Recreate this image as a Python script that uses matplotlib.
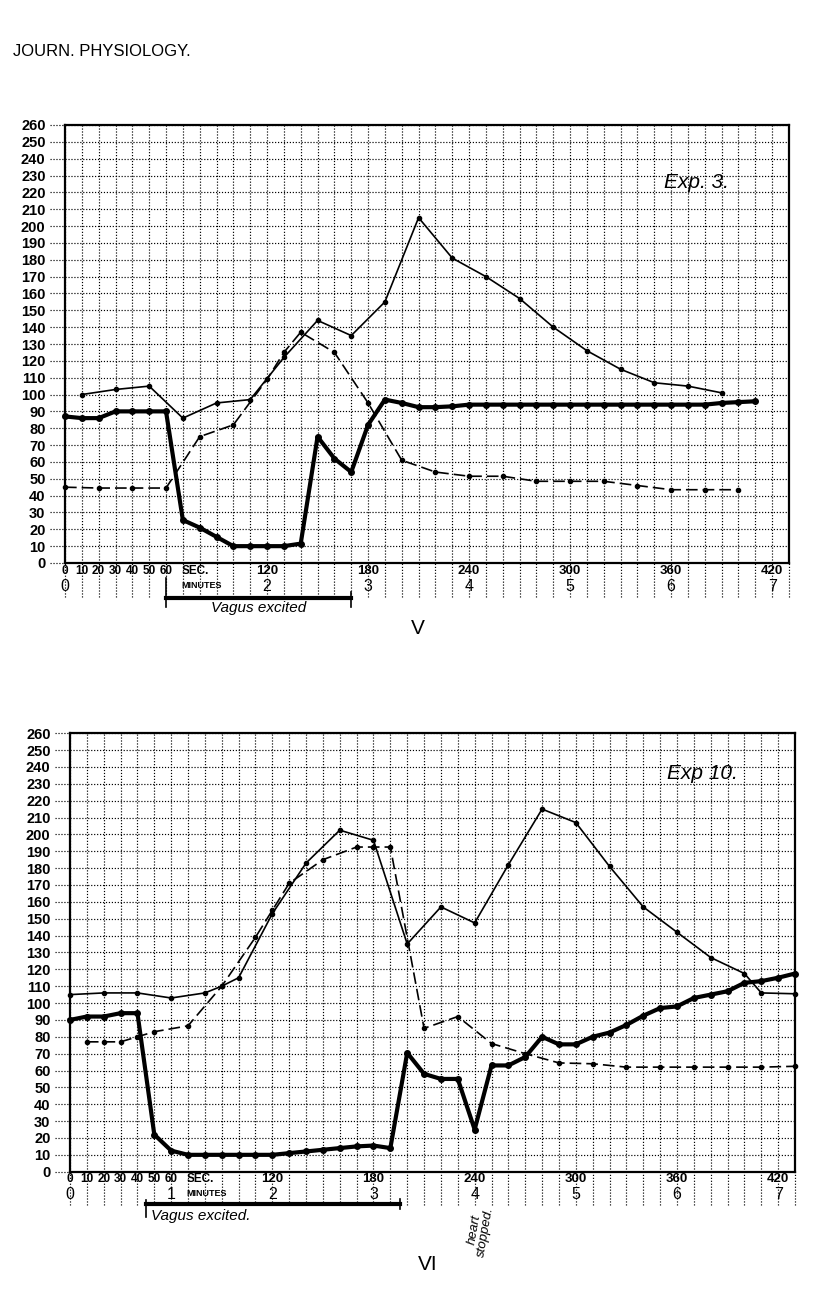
import matplotlib.pyplot as plt

plt.rcParams['font.family'] = ['Liberation Sans', 'DejaVu Sans']

# ---- Exp. 3 (fig V) ----
thin_x3 = [10, 30, 50, 70, 90, 110, 130, 150, 170, 190, 210, 230, 250, 270, 290, 310, 330, 350, 370, 390]
thin_y3 = [100, 103, 105, 86, 95, 97, 122, 144, 135, 155, 205, 181, 170, 157, 140, 126, 115, 107, 105, 101]

dash_x3 = [0, 20, 40, 60, 80, 100, 120, 130, 140, 160, 180, 200, 220, 240, 260, 280, 300, 320, 340, 360, 380, 400]
dash_y3 = [45, 44.5, 44.5, 44.5, 75, 82, 109, 125, 137, 125, 95, 61, 54, 51.5, 51.5, 48.5, 48.5, 48.5, 46, 43.5, 43.5, 43.5]

thick_x3 = list(range(0, 420, 10))
thick_y3 = [87, 86, 86, 90, 90, 90, 90, 25.5, 21, 15.5, 10, 10, 10, 10, 11.5, 75, 62, 54, 82, 97,
            95, 92.5, 92.5, 93, 94, 94, 94, 94, 94, 94, 94, 94, 94, 94, 94, 94, 94, 94, 94, 95, 95.5, 96]

# ---- Exp. 10 (fig VI) ----
thin_x10 = [0, 20, 40, 60, 80, 90, 100, 120, 140, 160, 180, 200, 220, 240, 260, 280, 300, 320, 340, 360, 380, 400, 410, 430]
thin_y10 = [105, 106, 106, 103, 106, 110, 115, 153, 183, 202.5, 196.5, 135, 157, 147.5, 182, 215, 207, 181, 157, 142, 127, 117.5, 106, 105.5]

dash_x10 = [10, 20, 30, 40, 50, 70, 90, 110, 120, 130, 150, 170, 180, 190, 210, 230, 250, 270, 290, 310, 330, 350, 370, 390, 410, 430]
dash_y10 = [77, 77, 77, 80, 83, 86.5, 110, 139, 155, 171, 185, 192.5, 192.5, 192.5, 85, 92, 76, 70, 64.5, 64, 62, 62, 62, 62, 62, 62.5]

thick_x10 = list(range(0, 440, 10))
thick_y10 = [90, 92, 92, 94, 94, 22, 12.5, 10, 10, 10, 10, 10, 10, 11, 12, 13, 14, 15, 15.5, 14,
             70.5, 58, 55, 55, 25, 63, 63, 68, 80, 75.5, 75.5, 80, 82.5, 87, 92.5, 97, 98, 103, 105, 107, 112, 113, 115, 117.5]

sec_ticks = [0, 10, 20, 30, 40, 50, 60]
big_ticks = [120, 180, 240, 300, 360, 420]
minute_ticks = [0, 2, 3, 4, 5, 6, 7]
y_ticks = list(range(0, 270, 10))

DOT = (0, (1, 1.5))


def draw_panel(ax, thin, dash, thick, exp_label, minute_one):
    ax.set_xlim(0, 430)
    ax.set_ylim(0, 260)
    ax.set_xticks(range(0, 440, 10))
    ax.set_yticks(y_ticks)
    ax.set_xticklabels([])
    ax.set_yticklabels([str(v) for v in y_ticks], fontsize=10.5, fontweight='bold')
    ax.tick_params(length=0, pad=14)
    ax.tick_params(axis='x', pad=0)
    ax.grid(True, color='black', linestyle=DOT, linewidth=0.85)
    for s in ax.spines.values():
        s.set_linewidth(1.6)

    # dotted leaders outside the frame
    ax.hlines(y_ticks, -9, 0, colors='black', linestyles=DOT, linewidth=0.85, clip_on=False)
    ax.vlines(list(range(0, 440, 10)), -20, 0, colors='black', linestyles=DOT,
              linewidth=0.85, clip_on=False)

    ax.plot(thin[0], thin[1], color='black', lw=1.2, marker='o', ms=3, clip_on=False, zorder=3)
    ax.plot(dash[0], dash[1], color='black', lw=1.2, ls=(0, (7, 3)), marker='o', ms=3,
            clip_on=False, zorder=3)
    ax.plot(thick[0], thick[1], color='black', lw=3, marker='o', ms=4, clip_on=False, zorder=4)

    # axis labels drawn by hand, two rows
    for v in sec_ticks:
        ax.text(v, -4.6, str(v), ha='center', va='center', fontsize=8.5, fontweight='bold')
    ax.text(69, -4.6, 'SEC.', ha='left', va='center', fontsize=8.5, fontweight='bold')
    for v in big_ticks:
        ax.text(v, -4.6, str(v), ha='center', va='center', fontsize=9.5, fontweight='bold')
    for m in minute_ticks:
        ax.text(m * 60, -13.8, str(m), ha='center', va='center', fontsize=11.5)
    if minute_one:
        ax.text(60, -13.8, '1', ha='center', va='center', fontsize=11.5)
    ax.text(81, -13.2, 'MINUTES', ha='center', va='center', fontsize=6.5, fontweight='bold')

    ax.text(375, exp_label[1], exp_label[0], ha='center', va='center', fontsize=15,
            style='italic')


fig = plt.figure(figsize=(8.16, 12.98), dpi=100)
fig.text(13 / 816, 1 - 52 / 1298, 'JOURN. PHYSIOLOGY.', fontsize=12, ha='left', va='center')

ax1 = fig.add_axes([65 / 816, 1 - 563 / 1298, 724 / 816, 438 / 1298])
draw_panel(ax1, (thin_x3, thin_y3), (dash_x3, dash_y3), (thick_x3, thick_y3), ('Exp. 3.', 226), False)
ax1.plot([60, 170], [-20.6, -20.6], color='black', lw=3, clip_on=False)
ax1.plot([60, 60], [-9, -26], color='black', lw=1.2, clip_on=False)
ax1.plot([170, 170], [-17, -26], color='black', lw=1.2, clip_on=False)
ax1.text(115, -26.8, 'Vagus excited', ha='center', va='center', fontsize=11, style='italic')
fig.text(418 / 816, 1 - 628 / 1298, 'V', fontsize=15, ha='center', va='center')

ax2 = fig.add_axes([70 / 816, 1 - 1171.7 / 1298, 725 / 816, 438.5 / 1298])
draw_panel(ax2, (thin_x10, thin_y10), (dash_x10, dash_y10), (thick_x10, thick_y10), ('Exp 10.', 236), True)
ax2.plot([45, 195.5], [-19.2, -19.2], color='black', lw=3, clip_on=False)
ax2.plot([45, 45], [-17, -27], color='black', lw=1.2, clip_on=False)
ax2.plot([195.5, 195.5], [-16, -22], color='black', lw=1.2, clip_on=False)
ax2.text(48, -26, 'Vagus excited.', ha='left', va='center', fontsize=11, style='italic')
ax2.text(243, -35, 'heart\nstopped.', ha='center', va='center', fontsize=9.5, style='italic',
         rotation=80, linespacing=0.9)
fig.text(428 / 816, 1 - 1265 / 1298, 'VI', fontsize=15, ha='center', va='center')

fig.savefig('out.png', dpi=100)
